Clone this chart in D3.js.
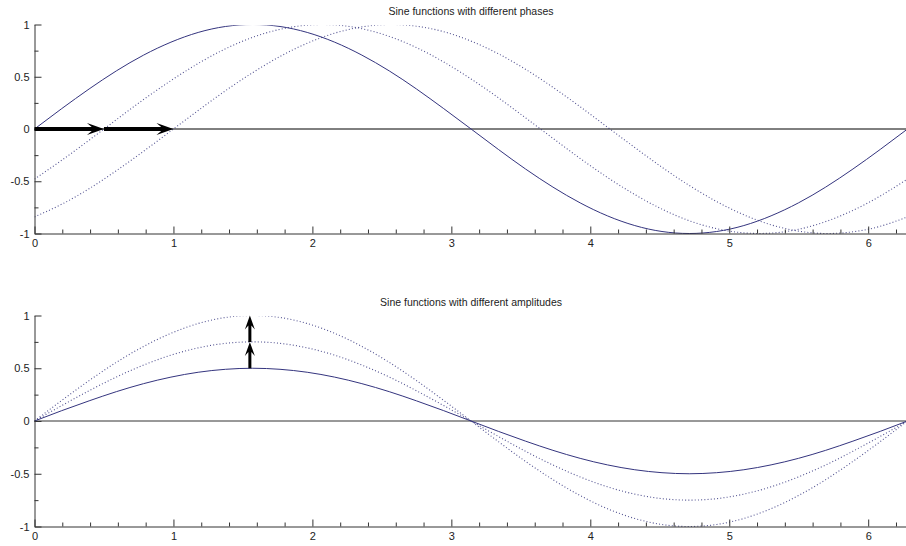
<!DOCTYPE html>
<html>
<head>
<meta charset="utf-8">
<script src="https://cdn.jsdelivr.net/npm/d3@7"></script>
<style>
  html, body { margin: 0; padding: 0; background: #fff; }
  svg { display: block; }
  text { font-family: "Liberation Sans", Arial, sans-serif; fill: #222; }
</style>
</head>
<body>
<svg id="chart" width="906" height="546"></svg>
<script>
// Sample positions along x (0 .. 2*pi, step pi/16)
const xs = [0, 0.196, 0.393, 0.589, 0.785, 0.982, 1.178, 1.374, 1.571, 1.767, 1.963,
  2.160, 2.356, 2.553, 2.749, 2.945, 3.142, 3.338, 3.534, 3.731, 3.927, 4.123,
  4.320, 4.516, 4.712, 4.909, 5.105, 5.301, 5.498, 5.694, 5.890, 6.087, 6.283];

// Upper panel: same wave, shifted by 0, 0.5 and 1
const phase0 = [0, 0.195, 0.383, 0.556, 0.707, 0.831, 0.924, 0.981, 1, 0.981, 0.924,
  0.831, 0.707, 0.556, 0.383, 0.195, 0, -0.195, -0.383, -0.556, -0.707, -0.831,
  -0.924, -0.981, -1, -0.981, -0.924, -0.831, -0.707, -0.556, -0.383, -0.195, 0];
const phase05 = [-0.479, -0.299, -0.107, 0.089, 0.282, 0.463, 0.627, 0.767, 0.878, 0.954, 0.994,
  0.996, 0.960, 0.886, 0.779, 0.641, 0.479, 0.299, 0.107, -0.089, -0.282, -0.463,
  -0.627, -0.767, -0.878, -0.954, -0.994, -0.996, -0.960, -0.886, -0.779, -0.641, -0.479];
const phase1 = [-0.841, -0.720, -0.571, -0.399, -0.213, -0.018, 0.177, 0.366, 0.540, 0.694, 0.821,
  0.917, 0.977, 1.000, 0.984, 0.931, 0.841, 0.720, 0.571, 0.399, 0.213, 0.018,
  -0.177, -0.366, -0.540, -0.694, -0.821, -0.917, -0.977, -1.000, -0.984, -0.931, -0.841];

// Lower panel: same wave with amplitudes 0.5, 0.75 and 1
const ampHalf = [0, 0.098, 0.191, 0.278, 0.354, 0.416, 0.462, 0.490, 0.5, 0.490, 0.462,
  0.416, 0.354, 0.278, 0.191, 0.098, 0, -0.098, -0.191, -0.278, -0.354, -0.416,
  -0.462, -0.490, -0.5, -0.490, -0.462, -0.416, -0.354, -0.278, -0.191, -0.098, 0];
const ampThreeQuarter = [0, 0.146, 0.287, 0.417, 0.530, 0.624, 0.693, 0.736, 0.75, 0.736, 0.693,
  0.624, 0.530, 0.417, 0.287, 0.146, 0, -0.146, -0.287, -0.417, -0.530, -0.624,
  -0.693, -0.736, -0.75, -0.736, -0.693, -0.624, -0.530, -0.417, -0.287, -0.146, 0];
const ampFull = [0, 0.195, 0.383, 0.556, 0.707, 0.831, 0.924, 0.981, 1, 0.981, 0.924,
  0.831, 0.707, 0.556, 0.383, 0.195, 0, -0.195, -0.383, -0.556, -0.707, -0.831,
  -0.924, -0.981, -1, -0.981, -0.924, -0.831, -0.707, -0.556, -0.383, -0.195, 0];

// Arrows: horizontal shifts in the upper panel, vertical growth in the lower one
const phaseArrowFrom = [0, 0.5];
const phaseArrowTo = [0.5, 1];
const ampArrowX = 1.55;
const ampArrowFrom = [0.5, 0.75];
const ampArrowTo = [0.75, 1];

// Axis ticks
const xMajorTicks = [0, 1, 2, 3, 4, 5, 6];
const xMinorTicks = [0.2, 0.4, 0.6, 0.8, 1.2, 1.4, 1.6, 1.8, 2.2, 2.4, 2.6, 2.8, 3.2, 3.4, 3.6, 3.8,
  4.2, 4.4, 4.6, 4.8, 5.2, 5.4, 5.6, 5.8, 6.2];
const yMajorTicks = [-1, -0.5, 0, 0.5, 1];
const yTickLabels = ["-1", "-0.5", "0", "0.5", "1"];
const yMinorTicks = [-0.75, -0.25, 0.25, 0.75];

const titles = ["Sine functions with different phases", "Sine functions with different amplitudes"];

const svg = d3.select("#chart");
svg.append("rect").attr("width", 906).attr("height", 546).attr("fill", "#fff");

const xDomain = [0, 2 * Math.PI];
const x = d3.scaleLinear().domain(xDomain).range([34.5, 34.5 + 2 * Math.PI * 138.95]);

const lineColor = "#34347e";

function arrowPath(x1, y1, x2, y2, shaftW, headL, headW) {
  const dx = x2 - x1, dy = y2 - y1;
  const len = Math.hypot(dx, dy);
  const ux = dx / len, uy = dy / len;
  const px = -uy, py = ux;
  const notch = headL * 0.72;
  const P = (a, b) => [x1 + ux * a + px * b, y1 + uy * a + py * b];
  const pts = [
    P(0, -shaftW / 2), P(len - notch, -shaftW / 2), P(len - headL, -headW / 2),
    P(len, 0),
    P(len - headL, headW / 2), P(len - notch, shaftW / 2), P(0, shaftW / 2)
  ];
  return "M" + pts.map(p => p[0].toFixed(2) + "," + p[1].toFixed(2)).join("L") + "Z";
}

function panel(idx, yRange, series, titleY) {
  const g = svg.append("g");
  const y = d3.scaleLinear().domain([-1, 1]).range(yRange);

  // the plot box cuts the curves just under its upper limit
  const clipId = "clip" + idx;
  svg.append("clipPath").attr("id", clipId)
    .append("rect")
    .attr("x", x(0)).attr("y", y(1) + 0.7)
    .attr("width", x(xDomain[1]) - x(0)).attr("height", y(-1) - y(1) + 1);

  // zero reference line
  g.append("line")
    .attr("x1", x(0)).attr("x2", x(xDomain[1]))
    .attr("y1", y(0)).attr("y2", y(0))
    .attr("stroke", idx === 0 ? "#000" : "#333").attr("stroke-width", 1);

  const line = d3.line()
    .x((d, i) => x(xs[i]))
    .y(d => y(d))
    .curve(d3.curveNatural);

  const curves = g.append("g").attr("clip-path", `url(#${clipId})`);
  series.forEach(s => {
    curves.append("path")
      .datum(s.values)
      .attr("d", line)
      .attr("fill", "none")
      .attr("stroke", lineColor)
      .attr("stroke-width", s.dotted ? 1.1 : 1)
      .attr("stroke-opacity", s.dotted ? 0.85 : 1)
      .attr("stroke-dasharray", s.dotted ? "1,2.2" : null);
  });

  // axes with inward ticks
  const xAxis = d3.axisBottom(x).tickValues(xMajorTicks).tickSize(-7).tickSizeOuter(0)
    .tickPadding(6).tickFormat(d3.format("d"));
  const gx = g.append("g").attr("transform", `translate(0,${y(-1)})`).call(xAxis);
  const gxm = g.append("g").attr("transform", `translate(0,${y(-1)})`)
    .call(d3.axisBottom(x).tickValues(xMinorTicks).tickSize(-4).tickFormat(""));
  gxm.select(".domain").remove();

  const yAxis = d3.axisLeft(y).tickValues(yMajorTicks).tickSize(-7).tickSizeOuter(0)
    .tickPadding(5).tickFormat((d, i) => yTickLabels[i]);
  const gy = g.append("g").attr("transform", `translate(${x(0)},0)`).call(yAxis);
  const gym = g.append("g").attr("transform", `translate(${x(0)},0)`)
    .call(d3.axisLeft(y).tickValues(yMinorTicks).tickSize(-4).tickFormat(""));
  gym.select(".domain").remove();

  [gx, gxm, gy, gym].forEach(a => {
    a.selectAll("path, line").attr("stroke", "#333");
    a.selectAll("text").attr("font-size", 11).attr("fill", "#333")
      .attr("font-family", "'Liberation Sans', Arial, sans-serif");
  });

  g.append("text")
    .attr("x", (x(0) + x(xDomain[1])) / 2)
    .attr("y", titleY)
    .attr("text-anchor", "middle")
    .attr("font-size", 10.5)
    .text(titles[idx]);

  return { g, y };
}

// upper panel: phases
const phasePanel = panel(0, [233.5, 24.5], [
  { values: phase0, dotted: false },
  { values: phase05, dotted: true },
  { values: phase1, dotted: true }
], 15);

phaseArrowFrom.forEach((a, i) => {
  phasePanel.g.append("path")
    .attr("d", arrowPath(x(a), phasePanel.y(0), x(phaseArrowTo[i]), phasePanel.y(0), 4, 17, 12))
    .attr("fill", "#000");
});

// lower panel: amplitudes
const ampPanel = panel(1, [526.5, 315.5], [
  { values: ampHalf, dotted: false },
  { values: ampThreeQuarter, dotted: true },
  { values: ampFull, dotted: true }
], 306);

ampArrowFrom.forEach((a, i) => {
  ampPanel.g.append("path")
    .attr("d", arrowPath(x(ampArrowX), ampPanel.y(a), x(ampArrowX), ampPanel.y(ampArrowTo[i]), 3, 14, 10))
    .attr("fill", "#000");
});
</script>
</body>
</html>
